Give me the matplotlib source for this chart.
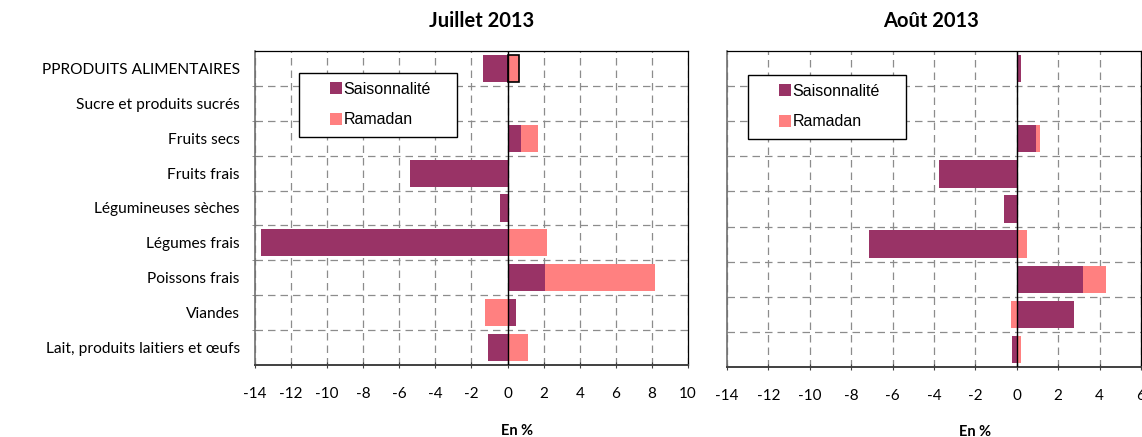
import numpy as np
import matplotlib
matplotlib.use("Agg")
import matplotlib.pyplot as plt
from matplotlib.patches import Patch, Rectangle

categories = [
    "PPRODUITS ALIMENTAIRES",
    "Sucre et produits sucrés",
    "Fruits secs",
    "Fruits frais",
    "Légumineuses sèches",
    "Légumes frais",
    "Poissons frais",
    "Viandes",
    "Lait, produits laitiers et œufs",
]
series_names = ["Saisonnalité", "Ramadan"]

juillet_saison = [-1.35, 0.0, 0.76, -5.4, -0.4, -13.68, 2.07, 0.48, -1.07]
juillet_ramadan = [0.65, 0.0, 0.93, 0.0, 0.0, 2.19, 6.08, -1.24, 1.15]

aout_saison = [0.19, 0.0, 0.91, -3.75, -0.63, -7.16, 3.22, 2.74, -0.24]
aout_ramadan = [0.0, 0.0, 0.19, 0.0, 0.0, 0.48, 1.11, -0.29, 0.19]

panel_titles = ["Juillet 2013", "Août 2013"]
x_ticks_left = list(range(-14, 11, 2))
x_ticks_right = list(range(-14, 7, 2))

colors = ["#993366", "#FF8080"]
FONT = "Lato"

W, H = 1142, 437
fig = plt.figure(figsize=(W / 100, H / 100), dpi=100)


def fx(px):
    return px / W


def fy(py):
    return 1 - py / H


def stacked(ax, series):
    pos = np.zeros(len(categories))
    neg = np.zeros(len(categories))
    y = np.arange(len(categories))
    bars = []
    for vals, col in zip(series, colors):
        v = np.asarray(vals, dtype=float)
        left = np.where(v >= 0, pos, neg)
        b = ax.barh(y, v, left=left, height=0.78, color=col, zorder=2)
        bars.append(b)
        pos = pos + np.where(v > 0, v, 0)
        neg = neg + np.where(v < 0, v, 0)
    return bars


def style(ax, xticks, show_labels):
    ax.set_xlim(xticks[0], xticks[-1])
    ax.set_ylim(len(categories) - 0.5, -0.5)
    ax.set_xticks(xticks)
    ax.set_xticklabels([str(t) for t in xticks], fontsize=11, family=FONT)
    ax.set_yticks(np.arange(len(categories)))
    if show_labels:
        ax.set_yticklabels(categories, fontsize=11.2, family=FONT)
    else:
        ax.set_yticklabels([])
    ax.tick_params(axis="y", which="major", length=0, pad=11)
    ax.set_yticks(np.arange(len(categories) - 1) + 0.5, minor=True)
    ax.tick_params(axis="y", which="minor", length=4, direction="inout",
                   color="#808080")
    ax.tick_params(axis="x", length=5, direction="inout", pad=13,
                   color="#404040")
    ax.set_axisbelow(True)
    ax.grid(axis="x", which="major", color="#8c8c8c", lw=0.9,
            linestyle=(0, (6, 4)))
    ax.grid(axis="y", which="minor", color="#8c8c8c", lw=0.9,
            linestyle=(0, (6, 4)))
    ax.axvline(0, color="black", lw=1.0, zorder=3)
    for s in ("top", "right"):
        ax.spines[s].set_color("black")
        ax.spines[s].set_linewidth(0.9)
    ax.spines["bottom"].set_color("#404040")
    ax.spines["bottom"].set_linewidth(1.4)
    ax.spines["left"].set_color("#707070")
    ax.spines["left"].set_linewidth(1.2)


def legend_box(box, handle_x, center_y):
    x0, y0, x1, y1 = box
    rect = Rectangle((fx(x0), fy(y1)), fx(x1) - fx(x0), fy(y0) - fy(y1),
                     transform=fig.transFigure, facecolor="white",
                     edgecolor="black", lw=1.0, zorder=5)
    fig.patches.append(rect)
    handles = [Patch(facecolor=c, edgecolor="none") for c in colors]
    leg = fig.legend(handles, series_names, loc="center left",
                     bbox_to_anchor=(fx(handle_x), fy(center_y)),
                     bbox_transform=fig.transFigure, frameon=False,
                     borderpad=0, borderaxespad=0, handlelength=0.75,
                     handleheight=0.75, handletextpad=0.1, labelspacing=1.0,
                     prop={"family": "Liberation Sans", "size": 11.5})
    leg.set_zorder(6)


ax1 = fig.add_axes([fx(255), fy(365), fx(688) - fx(255), fy(51) - fy(365)])
bars1 = stacked(ax1, [juillet_saison, juillet_ramadan])
style(ax1, x_ticks_left, True)
# the aggregate Ramadan bar is outlined in black
bars1[1][0].set_edgecolor("black")
bars1[1][0].set_linewidth(1.2)

ax2 = fig.add_axes([fx(727), fy(367), fx(1141) - fx(727), fy(51) - fy(367)])
stacked(ax2, [aout_saison, aout_ramadan])
style(ax2, x_ticks_right, False)
ax2.tick_params(axis="y", which="minor", length=0)

legend_box((299, 73, 457, 137), 330, 104.5)
legend_box((748, 75, 906, 139), 779, 106.5)

fig.text(fx(482), fy(21), panel_titles[0], ha="center", va="center",
         fontsize=14.5, fontweight="bold", family=FONT)
fig.text(fx(931), fy(21), panel_titles[1], ha="center", va="center",
         fontsize=14.5, fontweight="bold", family=FONT)
fig.text(fx(517), fy(431), "En %", ha="center", va="center",
         fontsize=10.5, fontweight="bold", family=FONT)
fig.text(fx(975), fy(432), "En %", ha="center", va="center",
         fontsize=10.5, fontweight="bold", family=FONT)

fig.savefig("out.png", dpi=100)
